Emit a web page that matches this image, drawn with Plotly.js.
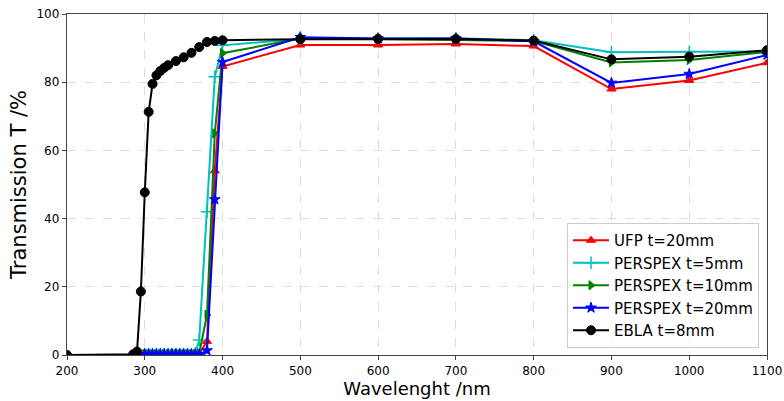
<!DOCTYPE html>
<html>
<head>
<meta charset="utf-8">
<script src="https://cdn.plot.ly/plotly-3.0.1.min.js"></script>
<style>html,body{margin:0;padding:0;background:#fff;}#chart{width:784px;height:401px;}</style>
</head>
<body>
<div id="chart"></div>
<script>
// Wavelengths (nm)
const wlPerspex = [300,305,310,315,320,325,330,335,340,345,350,355,360,365,370,380,390,400,500,600,700,800,900,1000,1100];
const wlEbla = [200,285,290,295,300,305,310,315,320,325,330,340,350,360,370,380,390,400,500,600,700,800,900,1000,1100];

// Transmission (%)
const ufp20 =      [0.3,0.3,0.3,0.3,0.3,0.3,0.3,0.3,0.3,0.3,0.3,0.3,0.3,0.3,0.3,4.0,54.0,84.6,90.9,90.9,91.2,90.6,78.0,80.5,85.7];
const perspex5 =   [0.3,0.3,0.3,0.3,0.3,0.3,0.3,0.3,0.3,0.3,0.3,0.3,0.3,0.5,4.4,42.0,81.6,90.8,92.7,92.8,92.9,92.3,88.8,88.9,89.0];
const perspex10 =  [0.3,0.3,0.3,0.3,0.3,0.3,0.3,0.3,0.3,0.3,0.3,0.3,0.3,0.3,0.5,11.8,65.0,88.5,92.8,92.7,92.4,92.1,85.8,86.5,88.9];
const perspex20 =  [0.2,0.2,0.2,0.2,0.2,0.2,0.2,0.2,0.2,0.2,0.2,0.2,0.2,0.2,0.2,1.3,45.6,85.9,93.2,92.8,92.8,92.0,79.8,82.4,88.0];
const ebla8 =      [0.0,0.2,1.0,18.6,47.7,71.3,79.5,82.0,83.3,84.2,85.0,86.2,87.3,88.6,90.3,91.8,92.1,92.3,92.6,92.7,92.7,92.2,86.7,87.5,89.4];

const names = ['UFP t=20mm','PERSPEX t=5mm','PERSPEX t=10mm','PERSPEX t=20mm','EBLA t=8mm'];
const xTicks = [200,300,400,500,600,700,800,900,1000,1100];
const yTicks = [0,20,40,60,80,100];

function tr(x, y, name, color, symbol, size, lw) {
  return {
    x: x, y: y, name: name, type: 'scatter', mode: 'lines+markers',
    line: {color: color, width: 2},
    marker: {color: color, symbol: symbol, size: size, line: {color: color, width: lw || 1}}
  };
}

const data = [
  tr(wlPerspex, ufp20, names[0], '#ff0000', 'triangle-up', 8),
  tr(wlPerspex, perspex5, names[1], '#00bfbf', 'cross-thin', 9, 1.5),
  tr(wlPerspex, perspex10, names[2], '#008000', 'triangle-right', 8),
  tr(wlPerspex, perspex20, names[3], '#0000ff', 'star', 8),
  tr(wlEbla, ebla8, names[4], '#000000', 'circle', 9)
];

const axisCommon = {
  showline: true, mirror: true, linecolor: '#444', linewidth: 1.3,
  ticks: 'outside', ticklen: 4, tickcolor: '#444',
  showgrid: true, gridcolor: '#dddddd', griddash: 'dash', gridwidth: 1,
  zeroline: false,
  tickfont: {family: 'DejaVu Sans', size: 12, color: '#000'}
};

const layout = {
  width: 784, height: 401,
  margin: {l: 67, r: 17, t: 14, b: 46},
  paper_bgcolor: '#fff', plot_bgcolor: '#fff',
  font: {family: 'DejaVu Sans', color: '#000'},
  xaxis: Object.assign({}, axisCommon, {
    range: [200, 1100], tickvals: xTicks, ticktext: xTicks.map(String),
    title: {text: 'Wavelenght /nm', font: {family: 'DejaVu Sans', size: 18}, standoff: 4}
  }),
  yaxis: Object.assign({}, axisCommon, {
    range: [0, 100], tickvals: yTicks, ticktext: yTicks.map(String),
    title: {text: 'Transmission T /%', font: {family: 'DejaVu Sans', size: 21}, standoff: 4}
  }),
  showlegend: true,
  legend: {
    x: 0.9886, y: 0.0205, xanchor: 'right', yanchor: 'bottom',
    bgcolor: 'rgba(255,255,255,0.85)', bordercolor: '#cccccc', borderwidth: 1,
    font: {family: 'DejaVu Sans', size: 15, color: '#000'},
    tracegroupgap: 0, itemwidth: 36
  }
};

Plotly.newPlot('chart', data, layout, {displayModeBar: false, staticPlot: true});
</script>
</body>
</html>
